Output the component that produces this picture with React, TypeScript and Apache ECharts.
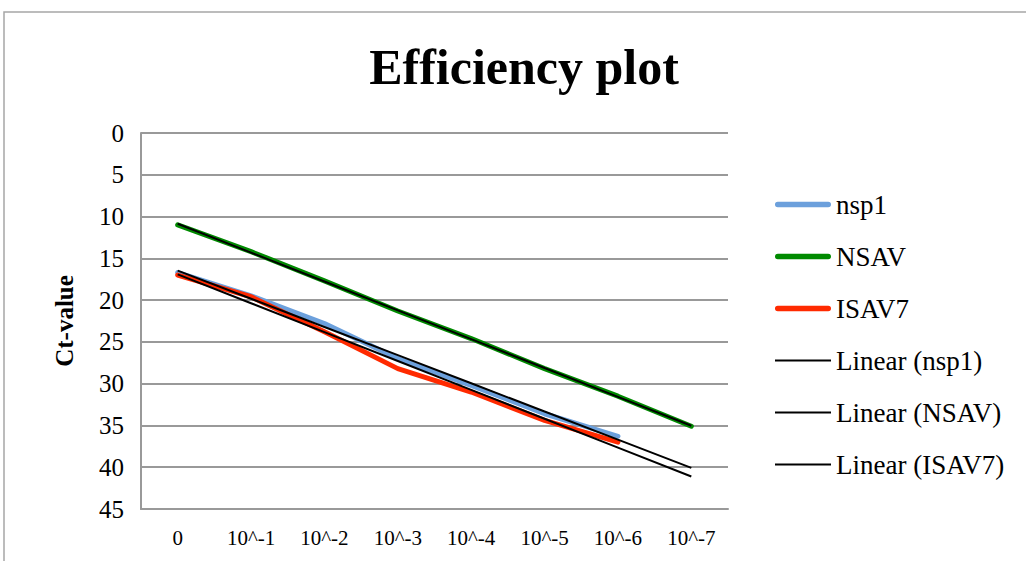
import React, { useEffect, useRef } from "react";
import * as echarts from "echarts";

const categories = ["0", "10^-1", "10^-2", "10^-3", "10^-4", "10^-5", "10^-6", "10^-7"];
const nsp1 = [16.7, 19.5, 22.8, 27.0, 30.2, 33.6, 36.3];
const nsav = [11.0, 14.2, 17.7, 21.3, 24.6, 28.2, 31.5, 35.1];
const isav7 = [17.0, 19.6, 23.8, 28.2, 31.0, 34.4, 37.0];
const yMin = 0;
const yMax = 45;
const yStep = 5;

const FONT = "Liberation Serif";

function linearTrend(values: number[], length: number): number[] {
  const n = values.length;
  let sx = 0, sy = 0, sxx = 0, sxy = 0;
  values.forEach((v, i) => {
    sx += i; sy += v; sxx += i * i; sxy += i * v;
  });
  const slope = (n * sxy - sx * sy) / (n * sxx - sx * sx);
  const intercept = (sy - slope * sx) / n;
  const out: number[] = [];
  for (let i = 0; i < length; i++) out.push(+(intercept + slope * i).toFixed(3));
  return out;
}

const THICK = "path://M3,0H57A3,3 0 0 1 57,6H3A3,3 0 0 1 3,0Z";
const THIN = "path://M0,0H60V2H0Z";

export default function App() {
  const ref = useRef<HTMLDivElement>(null);
  useEffect(() => {
    if (!ref.current) return;
    const chart = echarts.init(ref.current, undefined, { renderer: "svg" });
    const n = categories.length;
    const dataLine = (name: string, data: number[], color: string) => ({
      name,
      type: "line",
      data,
      symbol: "none",
      color,
      itemStyle: { color },
      lineStyle: { color, width: 5, cap: "round", join: "round" },
      z: 2,
    });
    const trendLine = (name: string, data: number[]) => ({
      name,
      type: "line",
      data,
      symbol: "none",
      color: "#000",
      itemStyle: { color: "#000" },
      lineStyle: { color: "#000", width: 2 },
      z: 3,
    });
    chart.setOption({
      animation: false,
      backgroundColor: "#fff",
      title: {
        text: "Efficiency plot",
        left: 519,
        top: 37,
        textAlign: "center",
        textStyle: { fontFamily: FONT, fontSize: 50, fontWeight: "bold", color: "#000" },
      },
      graphic: [
        {
          type: "rect",
          shape: { x: 4, y: 12, width: 1200, height: 700 },
          style: { fill: "none", stroke: "#a6a6a6", lineWidth: 1.5 },
          silent: true,
        },
      ],
      legend: {
        orient: "vertical",
        left: 775,
        top: 191,
        padding: 0,
        itemWidth: 56,
        itemHeight: 14,
        itemGap: 25,
        textStyle: { fontFamily: FONT, fontSize: 27, color: "#000", lineHeight: 26 },
        data: [
          { name: "nsp1", icon: THICK },
          { name: "NSAV", icon: THICK },
          { name: "ISAV7", icon: THICK },
          { name: "Linear (nsp1)", icon: THIN },
          { name: "Linear (NSAV)", icon: THIN },
          { name: "Linear (ISAV7)", icon: THIN },
        ],
      },
      grid: { left: 141, top: 133, right: 298, bottom: 52, containLabel: false },
      xAxis: {
        type: "category",
        data: categories,
        boundaryGap: true,
        position: "bottom",
        axisLine: { show: true, onZero: false, lineStyle: { color: "#999", width: 2 } },
        axisTick: { show: false },
        axisLabel: { fontFamily: FONT, fontSize: 21, color: "#000", margin: 18 },
        splitLine: { show: false },
      },
      yAxis: {
        type: "value",
        inverse: true,
        min: yMin,
        max: yMax,
        interval: yStep,
        name: "Ct-value",
        nameLocation: "middle",
        nameGap: 64,
        nameRotate: 90,
        nameTextStyle: { fontFamily: FONT, fontSize: 25, fontWeight: "bold", color: "#000" },
        axisLine: { show: true, lineStyle: { color: "#999", width: 2 } },
        axisTick: { show: false },
        axisLabel: { fontFamily: FONT, fontSize: 25, color: "#000", margin: 17 },
        splitLine: { show: true, lineStyle: { color: "#999", width: 2 } },
      },
      series: [
        dataLine("nsp1", nsp1, "#6ca0dc"),
        dataLine("NSAV", nsav, "#008a00"),
        dataLine("ISAV7", isav7, "#ff2a00"),
        trendLine("Linear (nsp1)", linearTrend(nsp1, n)),
        trendLine("Linear (NSAV)", linearTrend(nsav, n)),
        trendLine("Linear (ISAV7)", linearTrend(isav7, n)),
      ],
    });
    return () => chart.dispose();
  }, []);
  return (
    <div
      ref={ref}
      style={{ position: "fixed", left: 0, top: 0, width: 1026, height: 561 }}
    />
  );
}
